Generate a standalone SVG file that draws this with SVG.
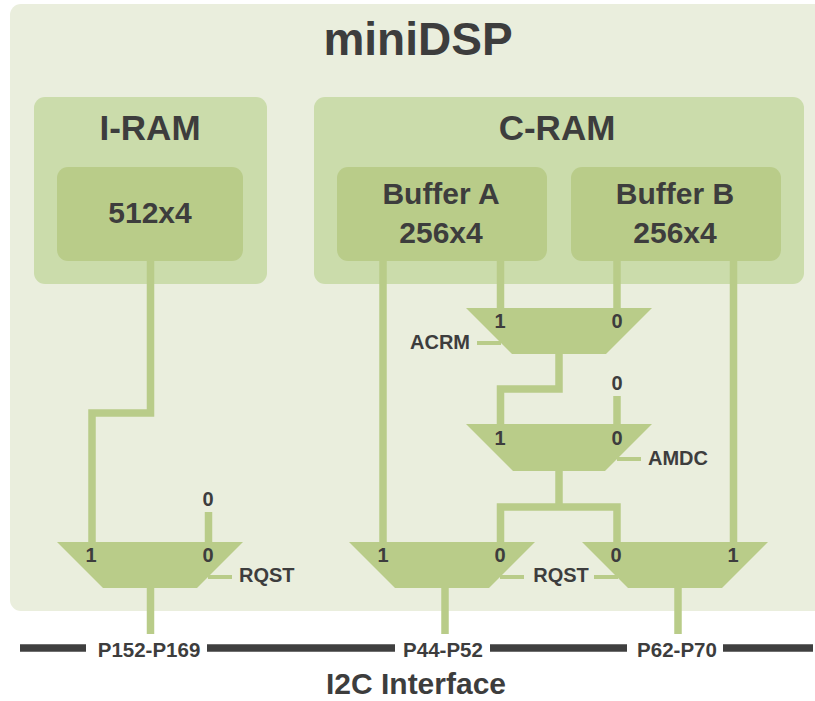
<svg xmlns="http://www.w3.org/2000/svg" width="815" height="701" viewBox="0 0 815 701">
<style>
text{font-family:"Liberation Sans",Arial,sans-serif;font-weight:bold;fill:#3d3d3d}
.t{font-size:46px;text-anchor:middle}
.h{font-size:35px;text-anchor:middle}
.b{font-size:30px;text-anchor:middle}
.s{font-size:20px}
.p{font-size:20.5px}
.c{text-anchor:middle}
.e{text-anchor:end}
.w{fill:none;stroke:#b9cc89;stroke-width:7.5;stroke-linejoin:miter;stroke-linecap:butt}
.sel{fill:none;stroke:#b9cc89;stroke-width:4}
.mux{fill:#b9cc89}
.bus{stroke:#3f3f3f;stroke-width:7.5}
</style>
<rect id="minidsp" x="10" y="4" width="830" height="607" rx="11" fill="#eaeedd"/>
<text class="t" x="418" y="55">miniDSP</text>
<g id="iram">
<rect x="34" y="97" width="233" height="187" rx="11" fill="#cbdcab"/>
<text class="h" x="150" y="140">I-RAM</text>
</g>
<g id="cram">
<rect x="314" y="97" width="490" height="187" rx="11" fill="#cbdcab"/>
<text class="h" x="557" y="140">C-RAM</text>
</g>
<g id="connectors">
<polyline class="w" points="150.5,261 150.5,413 92,413 92,542"/>
<line class="w" x1="383" y1="261" x2="383" y2="542"/>
<line class="w" x1="500.5" y1="261" x2="500.5" y2="308"/>
<line class="w" x1="617" y1="261" x2="617" y2="308"/>
<line class="w" x1="733.5" y1="261" x2="733.5" y2="542"/>
<polyline class="w" points="559,354 559,389 500.5,389 500.5,424"/>
<line class="w" x1="617" y1="396" x2="617" y2="424"/>
<line class="w" x1="559" y1="471" x2="559" y2="507"/>
<polyline class="w" points="500.5,542 500.5,507 617,507 617,542"/>
<line class="w" x1="208.5" y1="512" x2="208.5" y2="542"/>
<line class="w" x1="150.5" y1="588" x2="150.5" y2="634"/>
<line class="w" x1="445" y1="588" x2="445" y2="634"/>
<line class="w" x1="678" y1="588" x2="678" y2="634"/>
<line class="sel" x1="477" y1="343" x2="501" y2="343"/>
<line class="sel" x1="617" y1="459" x2="641" y2="459"/>
<line class="sel" x1="208" y1="577" x2="232" y2="577"/>
<line class="sel" x1="500" y1="577" x2="524" y2="577"/>
<line class="sel" x1="594" y1="577" x2="618" y2="577"/>
</g>
<g id="buf512">
<rect x="57" y="167" width="186" height="94" rx="11" fill="#b9cc89"/>
<text class="b" x="150" y="223">512x4</text>
</g>
<g id="bufA">
<rect x="337" y="167" width="210" height="94" rx="11" fill="#b9cc89"/>
<text class="b" x="441" y="204">Buffer A</text>
<text class="b" x="441" y="243">256x4</text>
</g>
<g id="bufB">
<rect x="571" y="167" width="210" height="94" rx="11" fill="#b9cc89"/>
<text class="b" x="675" y="204">Buffer B</text>
<text class="b" x="675" y="243">256x4</text>
</g>
<g id="mux-acrm">
<polygon class="mux" points="466,308 652,308 606,354 512,354"/>
<text class="s c" x="500" y="328">1</text>
<text class="s c" x="617" y="328">0</text>
<text class="s e" x="470" y="349">ACRM</text>
</g>
<g id="mux-amdc">
<polygon class="mux" points="466,424 652,424 605,471 513,471"/>
<text class="s c" x="500" y="445">1</text>
<text class="s c" x="617" y="445">0</text>
<text class="s c" x="617" y="390">0</text>
<text class="s" x="648" y="465">AMDC</text>
</g>
<g id="mux-iram">
<polygon class="mux" points="57,542 243,542 197,588 103,588"/>
<text class="s c" x="91" y="562">1</text>
<text class="s c" x="208" y="562">0</text>
<text class="s c" x="208" y="506">0</text>
<text class="s" x="239" y="582">RQST</text>
</g>
<g id="mux-a">
<polygon class="mux" points="349,542 535,542 489,588 395,588"/>
<text class="s c" x="383" y="562">1</text>
<text class="s c" x="500" y="562">0</text>
</g>
<text class="s c" x="561" y="582">RQST</text>
<g id="mux-b">
<polygon class="mux" points="582,542 768,542 722,588 628,588"/>
<text class="s c" x="616" y="562">0</text>
<text class="s c" x="733" y="562">1</text>
</g>
<g id="i2c">
<line class="bus" x1="20" y1="648" x2="86" y2="648"/>
<line class="bus" x1="207" y1="648" x2="395" y2="648"/>
<line class="bus" x1="490" y1="648" x2="627" y2="648"/>
<line class="bus" x1="723" y1="648" x2="813" y2="648"/>
<text class="p c" x="149" y="657">P152-P169</text>
<text class="p c" x="443" y="657">P44-P52</text>
<text class="p c" x="677" y="657">P62-P70</text>
<text class="c" style="font-size:30px" x="416" y="694">I2C Interface</text>
</g>
</svg>
